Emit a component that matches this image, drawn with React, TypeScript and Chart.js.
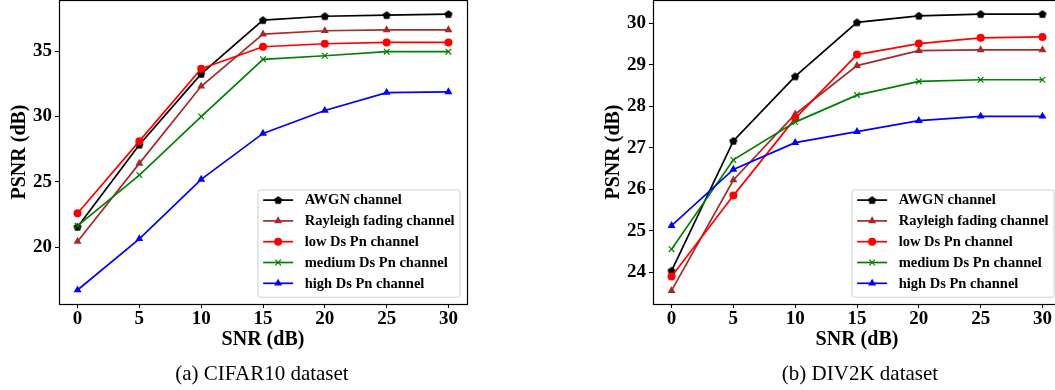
import React, { useEffect, useRef } from "react";
import { Chart, registerables } from "chart.js";
import { drawPoint } from "chart.js/helpers";
Chart.register(...registerables);

// ---- data ----
const snr = [0, 5, 10, 15, 20, 25, 30];
const seriesNames = [
  "AWGN channel",
  "Rayleigh fading channel",
  "low Ds Pn channel",
  "medium Ds Pn channel",
  "high Ds Pn channel",
];
const cifarAwgn = [21.57, 27.84, 33.25, 37.36, 37.66, 37.74, 37.82];
const cifarRayleigh = [20.46, 26.42, 32.31, 36.29, 36.55, 36.62, 36.62];
const cifarLow = [22.61, 28.12, 33.65, 35.33, 35.56, 35.66, 35.66];
const cifarMedium = [21.65, 25.53, 30.0, 34.37, 34.64, 34.95, 34.95];
const cifarHigh = [16.75, 20.66, 25.2, 28.71, 30.46, 31.83, 31.88];
const div2kAwgn = [24.04, 27.165, 28.72, 30.02, 30.18, 30.22, 30.22];
const div2kRayleigh = [23.56, 26.225, 27.81, 28.98, 29.34, 29.36, 29.36];
const div2kLow = [23.9, 25.85, 27.71, 29.245, 29.51, 29.65, 29.67];
const div2kMedium = [24.56, 26.71, 27.62, 28.27, 28.6, 28.64, 28.64];
const div2kHigh = [25.125, 26.48, 27.125, 27.39, 27.655, 27.76, 27.76];
const xTicks = [0, 5, 10, 15, 20, 25, 30];
const cifarYTicks = [20, 25, 30, 35];
const div2kYTicks = [24, 25, 26, 27, 28, 29, 30];
const xTitle = "SNR (dB)";
const yTitle = "PSNR (dB)";
const captions = ["(a) CIFAR10 dataset", "(b) DIV2K dataset"];

// ---- styles ----
const colors = ["#000000", "#a52a2a", "#ff0000", "#008000", "#0000ff"];
const SERIF = '"Liberation Serif", "Times New Roman", serif';

function makePentagon(color: string) {
  const c = document.createElement("canvas");
  c.width = 10;
  c.height = 10;
  const g = c.getContext("2d")!;
  g.beginPath();
  for (let i = 0; i < 5; i++) {
    const a = -Math.PI / 2 + (i * 2 * Math.PI) / 5;
    const px = 5 + Math.cos(a) * 4.3;
    const py = 5.3 + Math.sin(a) * 4.3;
    if (i === 0) g.moveTo(px, py);
    else g.lineTo(px, py);
  }
  g.closePath();
  g.fillStyle = color;
  g.fill();
  return c;
}

const legendPlugin = {
  id: "boxLegend",
  afterDatasetsDraw(chart: any) {
    const ctx = chart.ctx;
    const ca = chart.chartArea;
    const ds = chart.data.datasets;
    ctx.save();
    ctx.font = `bold 14.5px ${SERIF}`;
    const textW = Math.max(...ds.map((d: any) => ctx.measureText(d.label).width));
    const padL = 5.7, lineLen = 30, gap = 11.6, padR = 5;
    const w = padL + lineLen + gap + textW + padR;
    const rowH = 20.8, padT = 10.7, padB = 13.4;
    const h = padT + rowH * (ds.length - 1) + padB;
    const right = ca.right - 7.4;
    const bottom = ca.bottom - 7.3;
    const left = right - w;
    const top = bottom - h;
    ctx.beginPath();
    if (ctx.roundRect) ctx.roundRect(left + 0.5, top + 0.5, w, h, 2.5);
    else ctx.rect(left + 0.5, top + 0.5, w, h);
    ctx.fillStyle = "rgba(255,255,255,0.8)";
    ctx.fill();
    ctx.strokeStyle = "#d0d0d0";
    ctx.lineWidth = 1;
    ctx.stroke();
    ds.forEach((d: any, i: number) => {
      const y = top + padT + i * rowH;
      const x0 = left + padL;
      ctx.beginPath();
      ctx.moveTo(x0, y);
      ctx.lineTo(x0 + lineLen, y);
      ctx.strokeStyle = d.borderColor;
      ctx.lineWidth = d.borderWidth;
      ctx.stroke();
      ctx.fillStyle = d.borderColor;
      ctx.strokeStyle = d.borderColor;
      ctx.lineWidth = d.pointBorderWidth;
      drawPoint(
        ctx,
        { pointStyle: d.pointStyle, radius: d.pointRadius, rotation: 0, borderWidth: d.pointBorderWidth },
        x0 + lineLen / 2,
        y
      );
      ctx.fillStyle = "#000";
      ctx.textBaseline = "middle";
      ctx.textAlign = "left";
      ctx.fillText(d.label, x0 + lineLen + gap, y + 0.5);
    });
    ctx.restore();
  },
  afterDraw(chart: any) {
    const ctx = chart.ctx;
    const ca = chart.chartArea;
    ctx.save();
    ctx.strokeStyle = "#000";
    ctx.lineWidth = 1.2;
    ctx.strokeRect(ca.left + 0.5, ca.top + 0.5, ca.right - ca.left, ca.bottom - ca.top);
    ctx.restore();
  },
};

function buildDatasets(series: number[][]) {
  const styles: any[] = [null, "triangle", "circle", "crossRot", "triangle"];
  const radii = [4, 4.6, 4, 4, 4.6];
  return series.map((vals, i) => ({
    label: seriesNames[i],
    data: snr.map((x, j) => ({ x, y: vals[j] })),
    borderColor: colors[i],
    backgroundColor: colors[i],
    pointBackgroundColor: colors[i],
    pointBorderColor: colors[i],
    borderWidth: 1.7,
    pointBorderWidth: i === 3 ? 1.2 : 0,
    pointStyle: i === 0 ? makePentagon(colors[i]) : styles[i],
    pointRadius: radii[i],
    order: series.length - 1 - i,
    tension: 0,
  }));
}

function Panel({ series, yMin, yMax, yTicks }: { series: number[][]; yMin: number; yMax: number; yTicks: number[] }) {
  const ref = useRef<HTMLCanvasElement>(null);
  useEffect(() => {
    if (!ref.current) return;
    const tickFont = { family: SERIF, size: 19, weight: "bold" as const };
    const titleFont = { family: SERIF, size: 20, weight: "bold" as const };
    const grid = {
      display: true,
      drawOnChartArea: false,
      drawTicks: true,
      tickLength: 4,
      tickWidth: 1,
      tickColor: "#000",
    };
    const chart = new Chart(ref.current, {
      type: "line",
      data: { datasets: buildDatasets(series) as any },
      options: {
        animation: false,
        responsive: false,
        maintainAspectRatio: false,
        devicePixelRatio: 1,
        layout: { autoPadding: false, padding: { left: 0, right: 60, top: 0, bottom: 36 } },
        plugins: { legend: { display: false }, tooltip: { enabled: false } },
        scales: {
          x: {
            type: "linear",
            min: -1.5,
            max: 31.5,
            afterBuildTicks: (s: any) => {
              s.ticks = xTicks.map((v) => ({ value: v }));
            },
            afterFit: (s: any) => {
              s.height = 50;
              s.paddingLeft = 0;
              s.paddingRight = 0;
            },
            grid,
            border: { display: false },
            ticks: { font: tickFont, color: "#000", padding: 0, maxRotation: 0, autoSkip: false },
            title: { display: true, text: xTitle, font: titleFont, color: "#000", padding: { top: 0, bottom: 2 } },
          },
          y: {
            type: "linear",
            min: yMin,
            max: yMax,
            afterBuildTicks: (s: any) => {
              s.ticks = yTicks.map((v) => ({ value: v }));
            },
            afterFit: (s: any) => {
              s.width = 59;
              s.paddingTop = 0;
              s.paddingBottom = 0;
            },
            grid,
            border: { display: false },
            ticks: { font: tickFont, color: "#000", padding: 3, autoSkip: false },
            title: { display: true, text: yTitle, font: titleFont, color: "#000", padding: { top: 8, bottom: 0 } },
          },
        },
      },
      plugins: [legendPlugin],
    });
    return () => chart.destroy();
  }, []);
  return <canvas ref={ref} width={527} height={390} style={{ width: 527, height: 390, display: "block" }} />;
}

export default function App() {
  const capStyle: React.CSSProperties = {
    position: "absolute",
    top: 361,
    height: 24,
    lineHeight: "24px",
    fontFamily: SERIF,
    fontSize: 21,
    textAlign: "center",
    color: "#000",
    whiteSpace: "pre",
  };
  return (
    <div
      style={{
        position: "fixed",
        left: 0,
        top: 0,
        width: 1055,
        height: 390,
        overflow: "hidden",
        background: "#fff",
      }}
    >
      <div style={{ position: "absolute", left: 0, top: 0 }}>
        <Panel
          series={[cifarAwgn, cifarRayleigh, cifarLow, cifarMedium, cifarHigh]}
          yMin={15.68}
          yMax={38.9}
          yTicks={cifarYTicks}
        />
      </div>
      <div style={{ position: "absolute", left: 594, top: 0 }}>
        <Panel
          series={[div2kAwgn, div2kRayleigh, div2kLow, div2kMedium, div2kHigh]}
          yMin={23.24}
          yMax={30.56}
          yTicks={div2kYTicks}
        />
      </div>
      <div style={{ ...capStyle, left: 0, width: 524 }}>{captions[0]}</div>
      <div style={{ ...capStyle, left: 594, width: 532 }}>{captions[1]}</div>
    </div>
  );
}
